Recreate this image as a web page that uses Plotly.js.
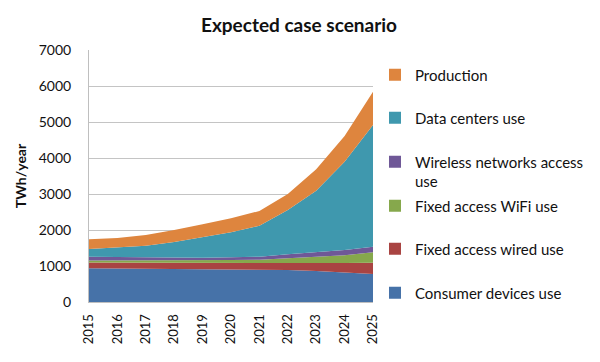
<!DOCTYPE html>
<html><head><meta charset="utf-8">
<script src="https://cdn.plot.ly/plotly-3.0.1.min.js"></script>
<style>html,body{margin:0;padding:0;background:#fff}</style>
</head><body><div id="chart" style="width:600px;height:362px"></div>
<script>
const years = [2015, 2016, 2017, 2018, 2019, 2020, 2021, 2022, 2023, 2024, 2025];
const consumerDevices = [940, 935, 930, 925, 920, 915, 905, 890, 860, 820, 780];
const fixedWired = [160, 160, 160, 160, 165, 170, 175, 195, 220, 260, 310];
const fixedWifi = [50, 55, 60, 65, 70, 80, 95, 130, 170, 220, 290];
const wirelessNetworks = [110, 100, 90, 80, 76, 76, 84, 109, 139, 144, 157];
const dataCenters = [210, 260, 325, 435, 565, 694, 861, 1232, 1704, 2454, 3380];
const production = [270, 269, 296, 333, 361, 389, 408, 444, 592, 713, 926];

const seriesNames = ['Consumer devices use', 'Fixed access wired use', 'Fixed access WiFi use',
  'Wireless networks access<br>use', 'Data centers use', 'Production'];
const seriesValues = [consumerDevices, fixedWired, fixedWifi, wirelessNetworks, dataCenters, production];
const seriesColors = ['#4672A8', '#A94442', '#86A84C', '#6F5897', '#3F98AE', '#DE853E'];

const FONT = 'Lato, "Open Sans", sans-serif';
const legendY = [0.036, 0.210, 0.381, 0.518, 0.730, 0.901];
const legendKeys = ['legend', 'legend2', 'legend3', 'legend4', 'legend5', 'legend6'];

const traces = [];
seriesValues.forEach((vals, i) => {
  traces.push({
    type: 'scatter', x: years, y: vals, stackgroup: 'one', mode: 'lines',
    line: {width: 0, color: seriesColors[i]}, fillcolor: seriesColors[i],
    name: seriesNames[i], showlegend: false, hoverinfo: 'x+y+name'
  });
});
seriesValues.forEach((vals, i) => {
  traces.push({
    type: 'bar', x: [null], y: [null], name: seriesNames[i],
    marker: {color: seriesColors[i]}, legend: legendKeys[i], showlegend: true
  });
});

const layout = {
  width: 600, height: 362,
  margin: {l: 89, r: 226, t: 50, b: 60},
  paper_bgcolor: '#fff', plot_bgcolor: '#fff',
  font: {family: FONT, size: 14, color: '#111'},
  title: {text: 'Expected case scenario', font: {family: FONT, size: 19, weight: 700, color: '#111'},
    x: 299 / 600, xref: 'container', xanchor: 'center', y: 1 - 25 / 362, yref: 'container', yanchor: 'middle'},
  xaxis: {range: [2015, 2025], tickmode: 'array', tickvals: years, ticktext: years.map(String),
    tickangle: -90, tickfont: {family: FONT, size: 13, color: '#111'}, showgrid: false,
    showline: true, linecolor: '#BFBFBF', linewidth: 1, ticks: '', ticklabelstandoff: 6, zeroline: false},
  yaxis: {range: [0, 7000], dtick: 1000, tickfont: {family: FONT, size: 14, color: '#111'},
    showgrid: true, gridcolor: '#C4C4C4', gridwidth: 1, showline: true, linecolor: '#BFBFBF', linewidth: 1,
    ticks: '', ticklabelstandoff: 14, zeroline: false, automargin: false,
    title: {text: 'TWh/year', font: {family: FONT, size: 14, weight: 700, color: '#111'}, standoff: 8}},
  showlegend: true
};
legendKeys.forEach((k, i) => {
  layout[k] = {x: 1.0035, xanchor: 'left', y: legendY[i], yanchor: 'middle',
    font: {family: FONT, size: 15, color: '#111'}, bgcolor: 'rgba(0,0,0,0)',
    valign: i === 3 ? 'top' : 'middle'};
});

Plotly.newPlot('chart', traces, layout, {displayModeBar: false, staticPlot: true});
</script></body></html>
